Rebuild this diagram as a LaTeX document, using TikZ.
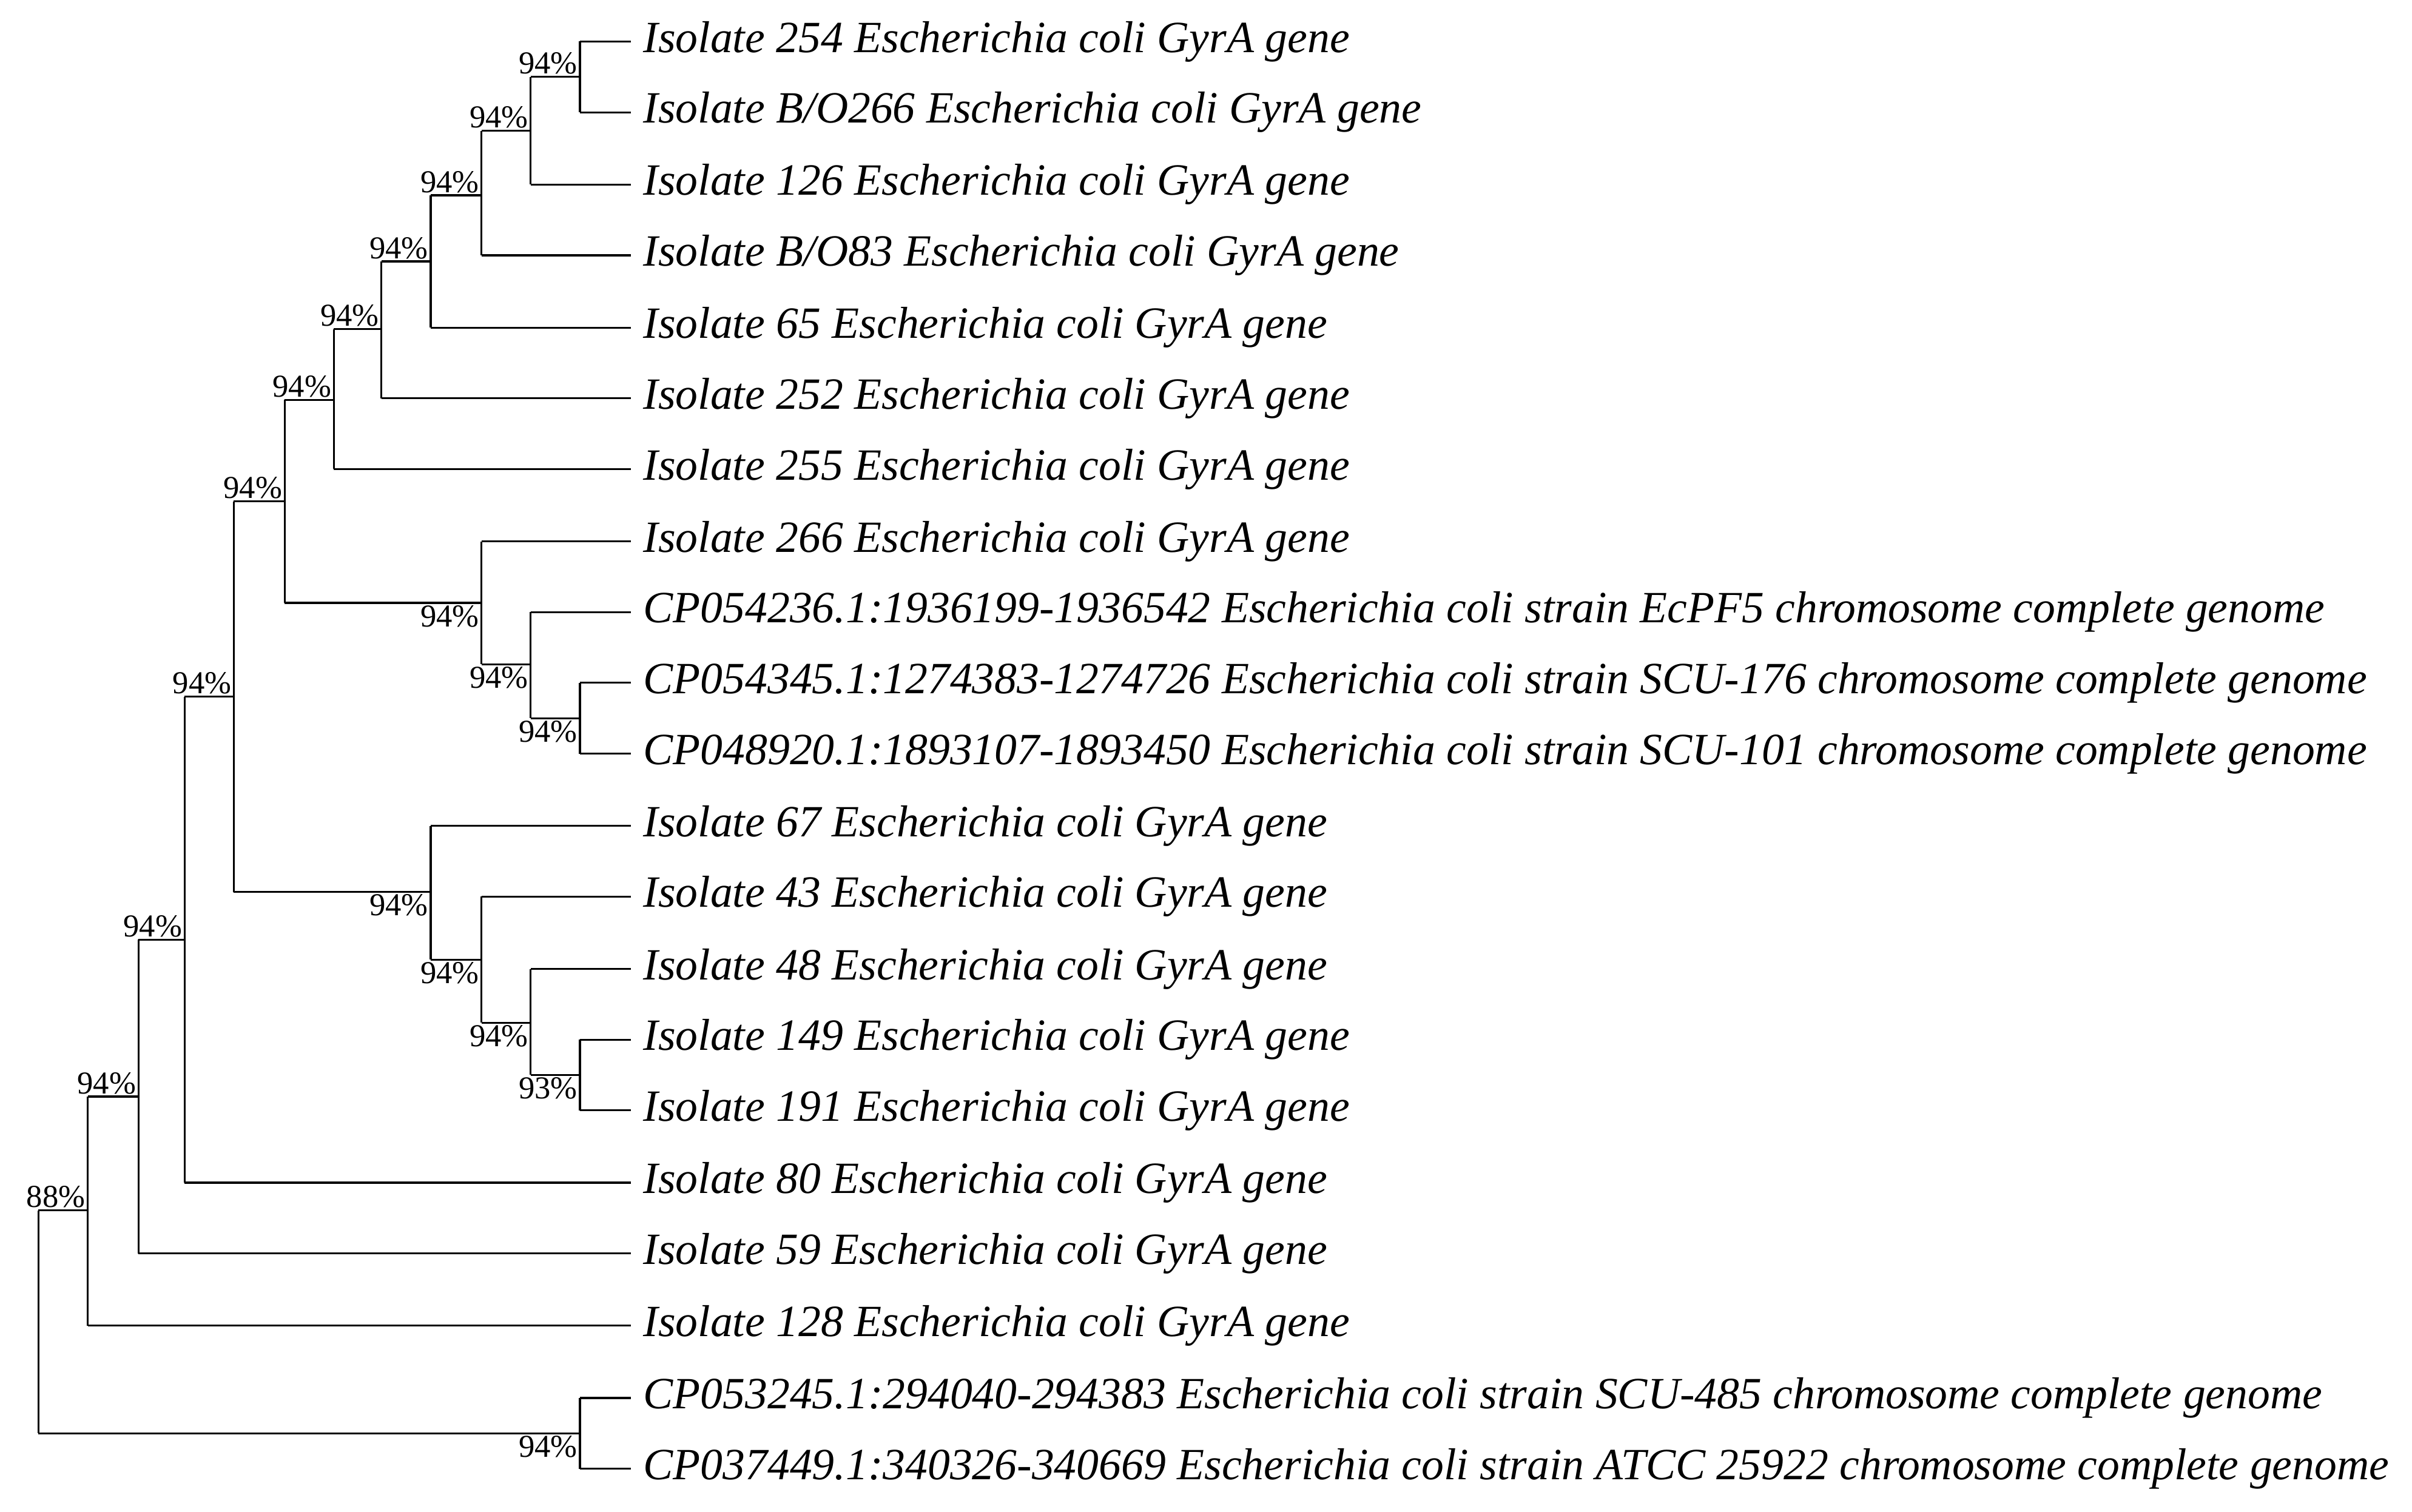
\documentclass[tikz,border=0pt]{standalone}
\usepackage{fontspec}
\setmainfont{Liberation Serif}
\begin{document}
\begin{tikzpicture}[x=0.0254cm,y=-0.0254cm,
  br/.style={line width=0.9pt,black},
  leaf/.style={anchor=west,font=\fontsize{21}{22}\selectfont\itshape,inner sep=0pt},
  up/.style={anchor=south east,font=\fontsize{15}{16}\selectfont,inner sep=1pt},
  dn/.style={anchor=north east,font=\fontsize{15}{16}\selectfont,inner sep=1pt}]
\useasboundingbox (0,0) rectangle (1568,983);
% leaves
\foreach \n/\y/\t in {
 l1/27/{Isolate 254 Escherichia coli GyrA gene},
 l2/73/{Isolate B/O266 Escherichia coli GyrA gene},
 l3/120/{Isolate 126 Escherichia coli GyrA gene},
 l4/166/{Isolate B/O83 Escherichia coli GyrA gene},
 l5/213/{Isolate 65 Escherichia coli GyrA gene},
 l6/259/{Isolate 252 Escherichia coli GyrA gene},
 l7/305/{Isolate 255 Escherichia coli GyrA gene},
 l8/352/{Isolate 266 Escherichia coli GyrA gene},
 l9/398/{CP054236.1:1936199-1936542 Escherichia coli strain EcPF5 chromosome complete genome},
 l10/444/{CP054345.1:1274383-1274726 Escherichia coli strain SCU-176 chromosome complete genome},
 l11/490/{CP048920.1:1893107-1893450 Escherichia coli strain SCU-101 chromosome complete genome},
 l12/537/{Isolate 67 Escherichia coli GyrA gene},
 l13/583/{Isolate 43 Escherichia coli GyrA gene},
 l14/630/{Isolate 48 Escherichia coli GyrA gene},
 l15/676/{Isolate 149 Escherichia coli GyrA gene},
 l16/722/{Isolate 191 Escherichia coli GyrA gene},
 l17/769/{Isolate 80 Escherichia coli GyrA gene},
 l18/815/{Isolate 59 Escherichia coli GyrA gene},
 l19/862/{Isolate 128 Escherichia coli GyrA gene},
 l20/909/{CP053245.1:294040-294383 Escherichia coli strain SCU-485 chromosome complete genome},
 l21/955/{CP037449.1:340326-340669 Escherichia coli strain ATCC 25922 chromosome complete genome}}
 {\coordinate (\n) at (410,\y); \node[leaf] (t\n) at (418,\y) {\t};}
% internal nodes: name/x/y
\foreach \n/\x/\y in {a/377/50,b/345/85,c/313/127,d/280/170,e/248/214,f/217/260,
  g/377/467,h/345/432,i/313/392,j/185/326,
  k/377/699,m/345/665,o/313/624,p/280/580,q/152/453,r/120/611,s/90/713,t/57/787,
  u/377/932,z/25/860}
 {\coordinate (\n) at (\x,\y);}
\newcommand{\cl}[3]{\draw[br] (#2 -| #1) -- (#3 -| #1); \draw[br] (#2 -| #1) -- (#2); \draw[br] (#3 -| #1) -- (#3);}
\cl{a}{l1}{l2} \cl{b}{a}{l3} \cl{c}{b}{l4} \cl{d}{c}{l5} \cl{e}{d}{l6} \cl{f}{e}{l7}
\cl{g}{l10}{l11} \cl{h}{l9}{g} \cl{i}{l8}{h} \cl{j}{f}{i}
\cl{k}{l15}{l16} \cl{m}{l14}{k} \cl{o}{l13}{m} \cl{p}{l12}{o}
\cl{q}{j}{p} \cl{r}{q}{l17} \cl{s}{r}{l18} \cl{t}{s}{l19} \cl{u}{l20}{l21} \cl{z}{t}{u}
% support labels
\foreach \n in {a,b,c,d,e,f,j,q,r,s} \node[up] (s\n) at (\n) {94\%};
\node[up] (st) at (t) {88\%};
\foreach \n in {g,h,i,m,o,p,u} \node[dn] (s\n) at (\n) {94\%};
\node[dn] (sk) at (k) {93\%};
\end{tikzpicture}
\end{document}
